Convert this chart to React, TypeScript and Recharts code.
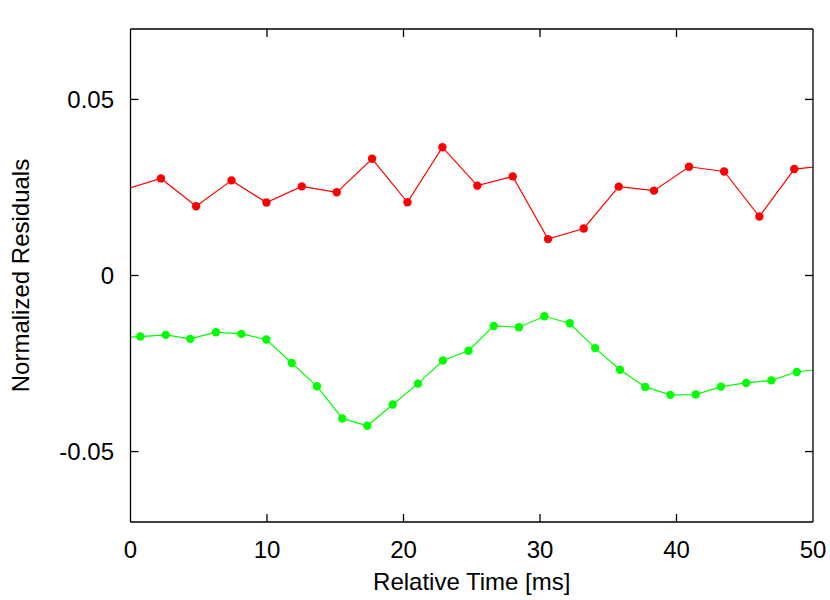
import React from 'react';
import { LineChart, Line, XAxis, YAxis, Label, ReferenceLine } from 'recharts';

// red series (points that fall just outside 0..50 keep the line running to the frame)
const redTime = [-0.35, 2.23, 4.81, 7.4, 9.96, 12.55, 15.11, 17.7, 20.29, 22.85, 25.41, 28.0, 30.59, 33.2, 35.77, 38.35, 40.92, 43.49, 46.07, 48.63, 51.2];
const redResidual = [0.02453, 0.02757, 0.01966, 0.02701, 0.02071, 0.02531, 0.02362, 0.03314, 0.02079, 0.03644, 0.02551, 0.02814, 0.01034, 0.01336, 0.02523, 0.0241, 0.03088, 0.02955, 0.01675, 0.03023, 0.03128];

// green series
const greenTime = [-1.13, 0.72, 2.58, 4.38, 6.26, 8.12, 9.95, 11.81, 13.66, 15.52, 17.35, 19.21, 21.06, 22.89, 24.76, 26.61, 28.46, 30.32, 32.18, 34.04, 35.86, 37.71, 39.55, 41.41, 43.26, 45.11, 46.95, 48.81, 50.66];
const greenResidual = [-0.01778, -0.01734, -0.01686, -0.01799, -0.0161, -0.01658, -0.01819, -0.02486, -0.03147, -0.04059, -0.04266, -0.03664, -0.03071, -0.02412, -0.02138, -0.01432, -0.01469, -0.01158, -0.01356, -0.02062, -0.02675, -0.03164, -0.0339, -0.03381, -0.03155, -0.03051, -0.02977, -0.0274, -0.02653];

const xTicks = [0, 10, 20, 30, 40, 50];
const yTicks = [-0.05, 0, 0.05];
const xDomain = [0, 50];
const yDomain = [-0.07, 0.07];

const redData = redTime.map((t, i) => ({ t, v: redResidual[i] }));
const greenData = greenTime.map((t, i) => ({ t, v: greenResidual[i] }));

const FONT = '"Liberation Sans", Arial, Helvetica, sans-serif';
const FS = 24;
const TICK = 8;
const frame = { stroke: '#000', strokeWidth: 1.3 };

// chart fills the whole 830x600 page (body margin removed)
const W = 830;
const H = 600;
const margin = { top: 29, right: 17, bottom: 0, left: 0 };
const yAxisW = 130.5;
const xAxisH = 78;

const plotLeft = margin.left + yAxisW;
const plotRight = W - margin.right;
const plotTop = margin.top;
const plotBottom = H - margin.bottom - xAxisH;

// tick length expressed in data units (gnuplot style inward ticks on all four sides)
const tickDx = (TICK * (xDomain[1] - xDomain[0])) / (plotRight - plotLeft);
const tickDy = (TICK * (yDomain[1] - yDomain[0])) / (plotBottom - plotTop);

const BottomTick = (p: any) => (
  <text x={p.x} y={p.y + 27} textAnchor="middle" dominantBaseline="central" fontFamily={FONT} fontSize={FS} fill="#000">
    {p.payload.value}
  </text>
);

const LeftTick = (p: any) => (
  <text x={p.x - 16.5} y={p.y} textAnchor="end" dominantBaseline="central" fontFamily={FONT} fontSize={FS} fill="#000">
    {p.payload.value}
  </text>
);

export default function App() {
  const innerX = xTicks.filter((t) => t > xDomain[0] && t < xDomain[1]);
  return (
    <div style={{ width: W, height: H, background: '#fff' }}>
      <style>{'body{margin:0}'}</style>
      <LineChart width={W} height={H} margin={margin}>
        <XAxis
          type="number"
          dataKey="t"
          domain={xDomain}
          allowDataOverflow
          ticks={xTicks}
          interval={0}
          height={xAxisH}
          tickSize={0}
          tickMargin={0}
          tickLine={false}
          axisLine={false}
          tick={BottomTick}
        >
          <Label
            content={() => (
              <text x={(plotLeft + plotRight) / 2} y={plotBottom + 59} textAnchor="middle" dominantBaseline="central" fontFamily={FONT} fontSize={FS} fill="#000">
                Relative Time [ms]
              </text>
            )}
          />
        </XAxis>
        <YAxis
          type="number"
          domain={yDomain}
          allowDataOverflow
          ticks={yTicks}
          interval={0}
          width={yAxisW}
          tickSize={0}
          tickMargin={0}
          tickLine={false}
          axisLine={false}
          tick={LeftTick}
        >
          <Label
            content={() => (
              <text
                x={20}
                y={(plotTop + plotBottom) / 2}
                transform={`rotate(-90, 20, ${(plotTop + plotBottom) / 2})`}
                textAnchor="middle"
                dominantBaseline="central"
                fontFamily={FONT}
                fontSize={FS}
                fill="#000"
              >
                Normalized Residuals
              </text>
            )}
          />
        </YAxis>
        {innerX.map((t) => (
          <ReferenceLine key={`xb${t}`} segment={[{ x: t, y: yDomain[0] }, { x: t, y: yDomain[0] + tickDy }]} {...frame} ifOverflow="visible" />
        ))}
        {innerX.map((t) => (
          <ReferenceLine key={`xt${t}`} segment={[{ x: t, y: yDomain[1] }, { x: t, y: yDomain[1] - tickDy }]} {...frame} ifOverflow="visible" />
        ))}
        {yTicks.map((v) => (
          <ReferenceLine key={`yl${v}`} segment={[{ x: xDomain[0], y: v }, { x: xDomain[0] + tickDx, y: v }]} {...frame} ifOverflow="visible" />
        ))}
        {yTicks.map((v) => (
          <ReferenceLine key={`yr${v}`} segment={[{ x: xDomain[1], y: v }, { x: xDomain[1] - tickDx, y: v }]} {...frame} ifOverflow="visible" />
        ))}
        <Line
          data={redData}
          dataKey="v"
          stroke="#ff0000"
          strokeWidth={1.2}
          dot={{ r: 4.2, fill: '#ff0000', stroke: '#ff0000', strokeWidth: 0 }}
          activeDot={false}
          isAnimationActive={false}
        />
        <Line
          data={greenData}
          dataKey="v"
          stroke="#00ff00"
          strokeWidth={1.2}
          dot={{ r: 4.2, fill: '#00ff00', stroke: '#00ff00', strokeWidth: 0 }}
          activeDot={false}
          isAnimationActive={false}
        />
        <ReferenceLine segment={[{ x: xDomain[0], y: yDomain[0] }, { x: xDomain[1], y: yDomain[0] }]} {...frame} ifOverflow="visible" />
        <ReferenceLine segment={[{ x: xDomain[0], y: yDomain[1] }, { x: xDomain[1], y: yDomain[1] }]} {...frame} ifOverflow="visible" />
        <ReferenceLine segment={[{ x: xDomain[0], y: yDomain[0] }, { x: xDomain[0], y: yDomain[1] }]} {...frame} ifOverflow="visible" />
        <ReferenceLine segment={[{ x: xDomain[1], y: yDomain[0] }, { x: xDomain[1], y: yDomain[1] }]} {...frame} ifOverflow="visible" />
      </LineChart>
    </div>
  );
}
